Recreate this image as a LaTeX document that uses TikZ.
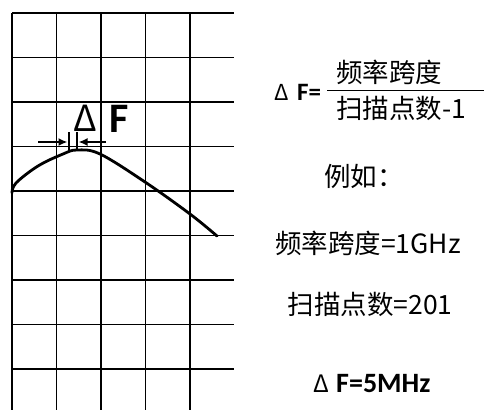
\documentclass[tikz,border=0pt]{standalone}
\usepackage{fontspec}
\newfontfamily\cjkfont{Noto Sans CJK SC}
\newfontfamily\labfont{Carlito}
\usepackage{tikz}
\usetikzlibrary{arrows.meta}
\tikzset{
  gridline/.style={line width=1.9pt,draw=black},
  trace/.style={line width=2.8pt,draw=black,line cap=round},
  span/.style={-{Latex[length=9pt,width=8pt]},line width=2.4pt},
  tickmark/.style={line width=2.6pt},
  bar/.style={line width=1.6pt},
  cn/.style={inner sep=0pt,font=\cjkfont\fontsize{26.5}{30}\selectfont},
  boldlab/.style={inner sep=0pt,font=\labfont\bfseries\fontsize{#1}{#1}\selectfont},
  greek/.style={inner sep=0pt,font=\cjkfont\fontsize{#1}{#1}\selectfont},
}

\begin{document}
\begin{tikzpicture}[x=1pt,y=-1pt]
  \path[use as bounding box] (0,0) rectangle (484,410);
  \foreach \x in {12,56.5,101,145.5,190} \draw[gridline] (\x,13) -- (\x,410);
  \foreach \y in {13,57.5,102,146.5,191,235.5,280,324.5,369} \draw[gridline] (12,\y) -- (234,\y);
  \draw[trace] plot[smooth,tension=.6] coordinates {(12,193) (16,183) (38,166) (63,154) (77,150) (100,154) (145,182) (190,214) (217,236)};
  \coordinate (la) at (38,142); \coordinate (lt) at (67.5,142);
  \coordinate (ra) at (106,142); \coordinate (rt) at (78.5,142);
  \draw[tickmark] (69,132) -- (69,151); \draw[tickmark] (77,132) -- (77,151);
  \draw[span] (la) -- (lt); \draw[span] (ra) -- (rt);
  \node[greek=36] (dbig) at (85.5,118) {Δ};
  \node[boldlab=42] (fbig) at (119.5,119) {F};
  \node[greek=22,anchor=west] (dtop) at (274,92) {Δ};
  \node[boldlab=25,anchor=west] (ftop) at (297,92) {F=};
  \coordinate (barl) at (327,90.5); \coordinate (barr) at (484,90.5);
  \draw[bar] (barl) -- (barr);
  \node[cn,anchor=west] (num) at (336,72) {频率跨度};
  \node[cn,anchor=west] (den) at (336,108) {扫描点数-1};
  \node[cn] (eg) at (364,176) {例如：};
  \node[cn] (spanval) at (368,243) {频率跨度=1GHz};
  \node[cn] (ptsval) at (370,304) {扫描点数=201};
  \node[greek=24,anchor=west] (dres) at (313,384) {Δ};
  \node[boldlab=28,anchor=west] (fres) at (336,384) {F=5MHz};
\end{tikzpicture}
\end{document}
